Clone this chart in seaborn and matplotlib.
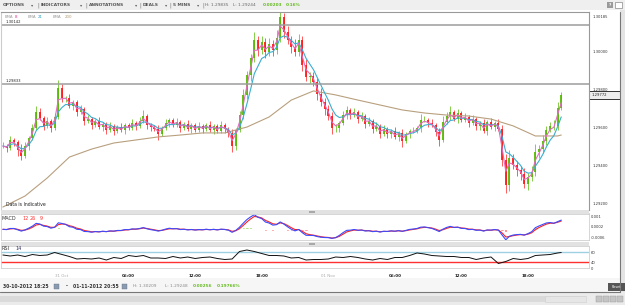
import matplotlib
matplotlib.use('Agg')
import matplotlib.pyplot as plt
from matplotlib.patches import Rectangle
from matplotlib.ticker import FormatStrFormatter
from matplotlib.transforms import blended_transform_factory
import numpy as np
import pandas as pd
import seaborn as sns

W, H = 625, 305

# EUR/USD closes, one every 20 minutes from 30-10-2012 18:40
BAR_START = '2012-10-30 18:40'
BAR_MINUTES = 20
closes = [
    1.29505, 1.29495, 1.29537, 1.29526, 1.29484, 1.29453, 1.29505, 1.29547, 1.29600, 1.29684,
    1.29653, 1.29611, 1.29637, 1.29600, 1.29658, 1.29811, 1.29758, 1.29758, 1.29716, 1.29737,
    1.29684, 1.29700, 1.29637, 1.29647, 1.29616, 1.29637, 1.29605, 1.29621, 1.29589, 1.29611,
    1.29584, 1.29605, 1.29589, 1.29616, 1.29600, 1.29626, 1.29611, 1.29637, 1.29663, 1.29616,
    1.29605, 1.29595, 1.29568, 1.29600, 1.29626, 1.29642, 1.29616, 1.29632, 1.29600, 1.29621,
    1.29595, 1.29616, 1.29589, 1.29611, 1.29595, 1.29616, 1.29589, 1.29611, 1.29584, 1.29616,
    1.29595, 1.29574, 1.29505, 1.29589, 1.29668, 1.29774, 1.29879, 1.29968, 1.30063, 1.30011,
    1.30053, 1.30000, 1.30042, 1.30011, 1.30074, 1.30184, 1.30105, 1.30063, 1.30026, 1.30000,
    1.30063, 1.29932, 1.29868, 1.29874, 1.29842, 1.29779, 1.29737, 1.29700, 1.29663, 1.29600,
    1.29600, 1.29626, 1.29668, 1.29695, 1.29668, 1.29684, 1.29647, 1.29663, 1.29621, 1.29637,
    1.29595, 1.29611, 1.29568, 1.29595, 1.29568, 1.29584, 1.29553, 1.29574, 1.29532, 1.29568,
    1.29584, 1.29584, 1.29600, 1.29642, 1.29642, 1.29626, 1.29616, 1.29579, 1.29537, 1.29632,
    1.29663, 1.29684, 1.29647, 1.29679, 1.29642, 1.29658, 1.29626, 1.29647, 1.29611, 1.29626,
    1.29584, 1.29632, 1.29605, 1.29626, 1.29595, 1.29432, 1.29300, 1.29442, 1.29405, 1.29379,
    1.29358, 1.29305, 1.29342, 1.29368, 1.29474, 1.29489, 1.29532, 1.29589, 1.29611, 1.29611,
    1.29705, 1.29772,
]
# wick lengths above / below each body, in pips
wick_up = [
    2, 1, 2, 1, 1, 3, 2, 1, 2, 3, 2, 1, 2, 1, 2, 4, 2, 1, 2, 1,
    1, 2, 1, 2, 1, 1, 2, 1, 1, 2, 1, 1, 2, 1, 1, 2, 1, 2, 3, 1,
    1, 1, 2, 1, 2, 1, 1, 2, 1, 1, 2, 1, 1, 2, 1, 1, 2, 1, 1, 2,
    1, 1, 2, 1, 2, 3, 2, 2, 4, 2, 3, 2, 3, 2, 4, 3, 2, 3, 2, 4,
    3, 2, 3, 2, 2, 2, 3, 2, 2, 2, 2, 1, 2, 2, 1, 2, 1, 2, 1, 2,
    1, 2, 1, 2, 1, 1, 2, 1, 2, 1, 1, 2, 1, 3, 2, 1, 2, 1, 2, 3,
    2, 3, 1, 2, 1, 2, 1, 2, 1, 1, 2, 1, 2, 1, 2, 2, 3, 4, 2, 2,
    2, 3, 2, 3, 4, 2, 3, 2, 2, 3, 3, 2,
]
wick_dn = [
    1, 2, 1, 2, 3, 2, 1, 2, 1, 1, 1, 2, 1, 2, 1, 1, 2, 2, 1, 2,
    2, 1, 2, 1, 2, 1, 1, 2, 2, 1, 2, 1, 1, 2, 1, 1, 2, 1, 1, 2,
    2, 1, 3, 1, 1, 2, 1, 1, 2, 1, 1, 2, 1, 1, 2, 1, 1, 2, 1, 1,
    2, 2, 3, 2, 1, 2, 2, 3, 2, 3, 2, 3, 2, 3, 2, 2, 3, 2, 3, 2,
    2, 3, 2, 3, 2, 3, 2, 3, 2, 3, 2, 2, 1, 2, 2, 1, 2, 1, 2, 1,
    2, 1, 2, 1, 2, 2, 1, 2, 3, 1, 2, 1, 1, 2, 1, 2, 1, 2, 3, 1,
    1, 2, 1, 2, 1, 1, 2, 1, 2, 2, 1, 2, 1, 2, 1, 3, 4, 3, 2, 3,
    3, 2, 3, 2, 2, 3, 2, 2, 1, 2, 2, 1,
]
# EMA 200 as drawn (it starts from a poor seed, so it is read, not computed)
ema200_bars = list(range(0, 151, 6)) + [151]
ema200_values = [
    1.29184, 1.29242, 1.29337, 1.29447, 1.29489, 1.29521, 1.29537, 1.29553, 1.29563, 1.29574,
    1.29574, 1.29605, 1.29658, 1.29747, 1.29795, 1.29774, 1.29747, 1.29721, 1.29695, 1.29679,
    1.29668, 1.29663, 1.29647, 1.29611, 1.29558, 1.29558, 1.29563,
]
# RSI 14 as drawn, every second bar
rsi_bars = list(range(0, 151, 2)) + [151]
rsi_values = [
    54.6, 52.6, 54.6, 51.6, 55.6, 53.6, 54.6, 59.6, 55.6, 51.6,
    46.6, 47.6, 46.6, 48.6, 44.6, 49.6, 47.6, 53.6, 51.6, 53.6,
    48.6, 48.6, 47.6, 51.6, 48.6, 50.6, 47.6, 49.6, 50.6, 47.6,
    45.6, 46.6, 61.6, 64.6, 61.6, 57.6, 53.6, 53.6, 52.6, 48.6,
    49.6, 44.6, 45.6, 45.6, 46.6, 50.6, 49.6, 51.6, 49.6, 46.6,
    44.6, 47.6, 45.6, 49.6, 49.6, 53.6, 58.6, 56.6, 53.6, 52.6,
    51.6, 51.6, 49.6, 49.6, 45.6, 48.6, 50.6, 37.6, 41.6, 47.6,
    45.6, 47.6, 53.6, 54.6, 55.6, 58.6, 59.6,
]
levels = [1.30142, 1.29833]
price_ticks = [1.30185, 1.30000, 1.29800, 1.29600, 1.29400, 1.29200]
macd_ticks = [0.001, 0.0002, -0.0006]
macd_tick_labels = ['0.001', '0.0002', '-0.0006']
rsi_bands = [60, 40]
time_ticks = ['2012-10-31 00:00', '2012-10-31 06:00', '2012-10-31 12:00', '2012-10-31 18:00',
              '2012-11-01 00:00', '2012-11-01 06:00', '2012-11-01 12:00', '2012-11-01 18:00']
time_labels = ['31 Oct', '06:00', '12:00', '18:00', '01 Nov', '06:00', '12:00', '18:00']

UP, DOWN = '#55bb00', '#ff1a1a'
C_EMA8, C_EMA21, C_EMA200 = '#e36cbf', '#3aaed0', '#b8a07e'
NUM = 2.7
PIP = 0.0001

df = pd.DataFrame({'time': pd.date_range(BAR_START, periods=len(closes), freq=f'{BAR_MINUTES}min'),
                   'close': closes})
df['open'] = df['close'].shift(1).fillna(df['close'])
df['high'] = df[['open', 'close']].max(axis=1) + np.array(wick_up) * PIP
df['low'] = df[['open', 'close']].min(axis=1) - np.array(wick_dn) * PIP
STEP = BAR_MINUTES // 5  # indicator periods are in 5-minute bars


def ema(s, n):
    return s.ewm(alpha=1 - (1 - 2 / (n + 1)) ** STEP, adjust=False).mean()


df['ema8'] = ema(df['close'], 8)
df['ema21'] = ema(df['close'], 21)
df['macd'] = ema(df['close'], 12) - ema(df['close'], 26)
df['signal'] = ema(df['macd'], 9)
df['hist'] = df['macd'] - df['signal']

sns.set_style('white')
plt.rcParams['font.family'] = ['DejaVu Sans']
fig = plt.figure(figsize=(W / 100, H / 100), dpi=100)


def axes_px(x0, y0, x1, y1):
    return fig.add_axes([x0 / W, 1 - y1 / H, (x1 - x0) / W, (y1 - y0) / H])


def px_text(x, y, s, **kw):
    kw.setdefault('va', 'center')
    fig.text(x / W, 1 - y / H, s, **kw)


def px_rect(x, y, w, h, **kw):
    fig.add_artist(Rectangle((x / W, 1 - (y + h) / H), w / W, h / H, transform=fig.transFigure, **kw))


# chrome
px_rect(0, 0, W, 10, fc='#efefef', ec='none')
px_rect(620, 10, 5, 282, fc='#e4e4e4', ec='none')
px_rect(0, 278, 620, 14, fc='#f6f6f6', ec='none')
px_rect(0, 292, W, 13, fc='#ebebeb', ec='none')
px_rect(0, 296, 586, 6, fc='#dadada', ec='none')
px_rect(545, 296, 41, 6, fc='#e6e6e6', ec='#cfcfcf', lw=0.4)
fig.add_artist(plt.Line2D([620 / W, 620 / W], [1 - 12 / H, 1 - 292 / H], color='#777777', lw=0.8))
fig.add_artist(plt.Line2D([0, 620 / W], [1 - 292 / H, 1 - 292 / H], color='#777777', lw=0.8))
for sy in (210, 242):
    px_rect(1, sy, 588, 3.5, fc='#e2e2e2', ec='none')
    px_rect(309, sy + 0.5, 6, 2.5, fc='#a8a8a8', ec='none')
for bx in (596, 603, 610, 617):
    px_rect(bx, 296, 6, 6, fc='#c4c4c4', ec='#999999', lw=0.3)
px_rect(607, 2, 6, 6, fc='#9a9a9a', ec='none')
px_rect(615, 2, 7, 6, fc='#ffffff', ec='#888888', lw=0.5)
px_text(610, 5, '?', color='white', fontsize=3, ha='center', weight='bold')
px_rect(608, 283, 17, 8, fc='#555555', ec='none')
px_text(616.5, 287, 'Reset', color='white', fontsize=2.4, ha='center')

# toolbar
for x, s in [(3, 'OPTIONS'), (41, 'INDICATORS'), (89, 'ANNOTATIONS'), (143, 'DEALS'), (173, '5 MINS')]:
    px_text(x, 5, s, fontsize=3.2, weight='bold', color='#555555')
for x in (32, 81, 136, 166, 198):
    px_text(x, 5, '▾', fontsize=3.2, color='#666666', ha='center')
for x in (38, 86, 140, 170, 203):
    px_text(x, 5, '|', fontsize=3.6, color='#666666', ha='center')
px_text(205, 5, 'H: 1.29835', fontsize=3.1, color='#666666')
px_text(233, 5, 'L: 1.29244', fontsize=3.1, color='#666666')
px_text(263, 5, '0.00203', fontsize=3.1, color='#66bb22', weight='bold')
px_text(286, 5, '0.16%', fontsize=3.1, color='#66bb22', weight='bold')

# bottom info row
px_text(3, 286, '30-10-2012 18:25', fontsize=3.3, weight='bold', color='#333333')
px_text(67, 286, '-', fontsize=3.3, weight='bold', color='#333333', ha='center')
px_text(73, 286, '01-11-2012 20:55', fontsize=3.3, weight='bold', color='#333333')
for ix in (54, 122):
    px_rect(ix, 283.5, 5, 5, fc='#8a9ab0', ec='#667788', lw=0.3)
px_text(133, 286, 'H: 1.30209', fontsize=3.1, color='#888888')
px_text(165, 286, 'L: 1.29248', fontsize=3.1, color='#888888')
px_text(193, 286, '0.00256', fontsize=3.1, color='#66bb22', weight='bold')
px_text(217, 286, '0.19766%', fontsize=3.1, color='#66bb22', weight='bold')

xlim = (pd.Timestamp('2012-10-30 18:30'), pd.Timestamp('2012-11-01 23:30'))

# price panel
ax = axes_px(1, 12, 589, 210)
colors = np.where(df['close'] >= df['open'], UP, DOWN)
ax.vlines(df['time'], df['low'], df['high'], colors=colors, lw=0.5)
ax.vlines(df['time'], df['open'], df['close'], colors=colors, lw=1.3)
sns.lineplot(x=df['time'].iloc[ema200_bars], y=ema200_values, color=C_EMA200, lw=0.8, ax=ax)
sns.lineplot(data=df, x='time', y='ema21', color=C_EMA21, lw=0.8, ax=ax)
sns.lineplot(data=df, x='time', y='ema8', color=C_EMA8, lw=0.8, ax=ax)
ax.set_ylim(1.291684, 1.302105)
ax.set_xlim(*xlim)
tr = blended_transform_factory(ax.transAxes, ax.transData)
for lv in levels:
    ax.axhline(lv, color='#9c9c9c', lw=1.1)
    ax.text(0.007, lv + 0.00006, f'{lv:.5f}', transform=tr, fontsize=NUM, va='bottom', color='#222222')
last = closes[-1]
half = 4 * (1.302105 - 1.291684) / 198
ax.add_patch(Rectangle((1.0, last - half), 31 / 588, 2 * half, transform=tr, clip_on=False,
                       fc='#eeeeee', ec='#333333', lw=0.7))
ax.text(1.0 + 2.5 / 588, last, f'{last:.5f}', transform=tr, fontsize=NUM, va='center', color='#222222')
ax.yaxis.tick_right()
ax.set_yticks(price_ticks)
ax.yaxis.set_major_formatter(FormatStrFormatter('%.5f'))
ax.tick_params(axis='y', length=0, pad=2.6, labelsize=NUM, labelcolor='#333333')
ax.set_xticks([])
ax.set_xlabel('')
ax.set_ylabel('')
for name, sp in ax.spines.items():
    sp.set_color('#999999')
    sp.set_linewidth(0.8)
ax.spines['bottom'].set_visible(False)
ax.spines['left'].set_color('#cccccc')
ax.text(0.008, 0.02, 'Data is Indicative', transform=ax.transAxes, fontsize=3.3, color='#222222')
px_text(5, 17, 'EMA', fontsize=2.9, color='#999999')
px_text(15, 17, '8', fontsize=2.9, color='#d8308f')
px_text(28, 17, 'EMA', fontsize=2.9, color='#999999')
px_text(38, 17, '21', fontsize=2.9, color='#2a9fc0')
px_text(53, 17, 'EMA', fontsize=2.9, color='#999999')
px_text(65, 17, '200', fontsize=2.9, color='#b09870')

# MACD panel
ax_m = axes_px(1, 213.5, 589, 240)
ax_m.bar(df['time'], df['hist'], width=BAR_MINUTES / 1440 * 0.9,
         color=np.where(df['hist'] >= 0, '#7ccc2a', '#ff5c5c'))
sns.lineplot(data=df, x='time', y='signal', color='#ff2020', lw=0.8, ax=ax_m)
sns.lineplot(data=df, x='time', y='macd', color='#3a4cff', lw=0.8, ax=ax_m)
ax_m.set_ylim(-0.000829, 0.001229)
ax_m.set_xlim(*xlim)
ax_m.yaxis.tick_right()
ax_m.set_yticks(macd_ticks, macd_tick_labels)
ax_m.tick_params(axis='y', length=0, pad=1.2, labelsize=NUM, labelcolor='#333333')
ax_m.set_xticks([])
ax_m.set_xlabel('')
ax_m.set_ylabel('')
for sp in ax_m.spines.values():
    sp.set_color('#d0d0d0')
    sp.set_linewidth(0.6)
px_text(2, 219, 'MACD', fontsize=3.5, color='#333333')
px_text(22, 219, '12', fontsize=3.5, color='#ff3333')
px_text(30, 219, '26', fontsize=3.5, color='#ff3333')
px_text(40, 219, '9', fontsize=3.5, color='#ff3333')

# RSI panel
ax_r = axes_px(1, 246, 589, 268)
ax_r.axhline(rsi_bands[0], color='#9fd0e2', lw=1.0)
ax_r.axhline(rsi_bands[1], color='#ff3030', lw=1.0)
sns.lineplot(x=df['time'].iloc[rsi_bars], y=rsi_values, color='#111111', lw=0.7, ax=ax_r)
ax_r.set_ylim(28.6, 72.6)
ax_r.set_xlim(*xlim)
ax_r.yaxis.tick_right()
ax_r.set_yticks(rsi_bands, [str(v) for v in rsi_bands])
ax_r.tick_params(axis='y', length=0, pad=1.5, labelsize=NUM, labelcolor='#333333')
ax_r.set_xlabel('')
ax_r.set_ylabel('')
ax_r.set_xticks(pd.to_datetime(time_ticks), time_labels)
ax_r.tick_params(axis='x', length=0, pad=4.5, labelsize=2.9)
for lab in ax_r.get_xticklabels():
    if ':' in lab.get_text():
        lab.set_fontweight('bold')
        lab.set_color('#222222')
    else:
        lab.set_color('#aaaaaa')
for name, sp in ax_r.spines.items():
    sp.set_color('#d0d0d0')
    sp.set_linewidth(0.6)
px_text(2, 249, 'RSI', fontsize=3.5, color='#333333')
px_text(15, 249, '14', fontsize=3.5, color='#333366')
px_text(591, 269, '0', fontsize=NUM, color='#333333')

fig.savefig('out.png', dpi=100)
